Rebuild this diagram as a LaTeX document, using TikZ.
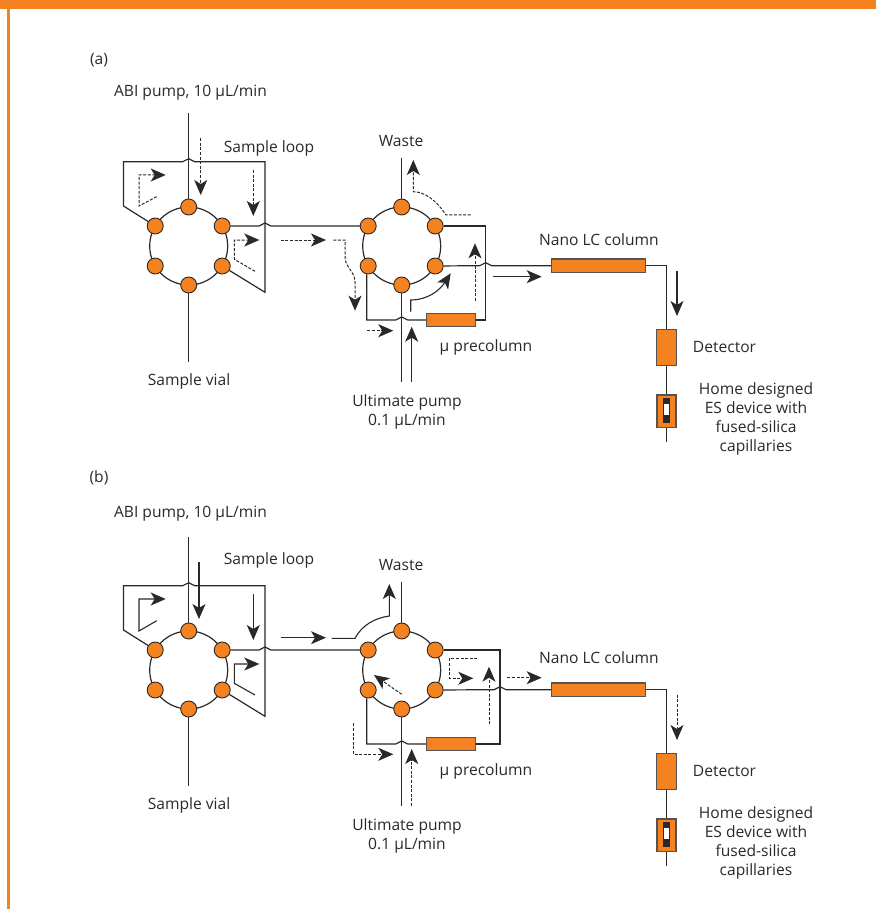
\documentclass[tikz,border=0pt]{standalone}
\usepackage{fontspec}
\setmainfont{Open Sans}
\usetikzlibrary{arrows.meta}
\definecolor{pumporange}{HTML}{F58220}
\definecolor{wirecol}{HTML}{2B2829}
\tikzset{
  wire/.style={draw=wirecol, line width=1.2pt},
  port/.style={circle, draw=wirecol, fill=pumporange, line width=0.9pt, minimum size=16pt, inner sep=0pt},
  column/.style={rectangle, draw=wirecol!80, fill=pumporange, line width=1.1pt, inner sep=0pt},
  lbl/.style={font=\fontsize{15.6}{19}\selectfont, text=wirecol, align=center, inner sep=0pt},
  flow/.style={wirecol, line width=1.1pt, -{Stealth[length=15pt,width=13pt,inset=4pt]}},
  dflow/.style={flow, dash pattern=on 3pt off 1.6pt, line width=1pt},
}
% small bump where one wire passes over another
\newcommand{\hop}[1]{-- ([xshift=-6pt]#1) .. controls ([xshift=-3pt]#1) and ([xshift=-3pt,yshift=3pt]#1) .. ([yshift=3pt]#1) .. controls ([xshift=3pt,yshift=3pt]#1) and ([xshift=3pt]#1) .. ([xshift=6pt]#1)}
% six port valve
\newcommand{\valve}[3]{
  \draw[wire] (#2,#3) circle (39pt);
  \node[port] (#1t) at (#2,#3-39) {};
  \node[port] (#1b) at (#2,#3+39) {};
  \node[port] (#1ul) at (#2-33.5,#3-20) {};
  \node[port] (#1ur) at (#2+33.5,#3-20) {};
  \node[port] (#1ll) at (#2-33.5,#3+20) {};
  \node[port] (#1lr) at (#2+33.5,#3+20) {};
}
% everything both panels share, #1 = x of the precolumn loop
\newcommand{\panelbody}[1]{
  \valve{p}{188.7}{246}
  \valve{q}{401.7}{246}
  \coordinate (abitop) at (188.7,113);
  \coordinate (vial) at (188.7,362);
  \coordinate (wastetop) at (401.7,158);
  \coordinate (umtop) at (401.7,381.7);
  \draw[wire] (abitop) -- (pt);
  \draw[wire] (pb) -- (vial);
  \draw[wire] (qt) -- (wastetop);
  \draw[wire] (qb) -- (umtop);
  % sample loop
  \coordinate (hopa) at (188.7,161.7);
  \coordinate (hopb) at (265,226);
  \draw[wire] (pul) -- (123.5,206) -- (123.5,161.7) \hop{hopa} -- (265,161.7) -- (265,292.3) -- (plr);
  \draw[wire] (pur) \hop{hopb} -- (qul);
  % precolumn
  \node[column, minimum width=49.4pt, minimum height=13.4pt] (pre) at (451,320) {};
  \coordinate (hopc) at (401.7,320);
  \coordinate (hopd) at (#1,265.7);
  \draw[wire] (qur) -- (#1,226) -- (#1,320) -- (pre);
  \draw[wire] ([xshift=-1.5pt]qll.south) -- (366.7,320) \hop{hopc} -- (pre);
  % column, detector, sprayer
  \node[column, minimum width=93.6pt, minimum height=13.4pt] (nano) at (598.5,265.7) {};
  \node[column, minimum width=20.3pt, minimum height=36.4pt] (det) at (666.5,347.5) {};
  \node[column, minimum width=19pt, minimum height=32.7pt] (es) at (666.5,411.3) {};
  \fill[wirecol] (662.7,398) rectangle (670.2,422.7);
  \fill[white] (664,404) rectangle (668.7,415);
  \coordinate (estip) at (666.5,441.7);
  \draw[wire] (qlr) \hop{hopd} -- (nano);
  \draw[wire] (nano) -| (det);
  \draw[wire] (det) -- (es);
  \draw[wire] (es) -- (estip);
  % labels
  \node[lbl] (vialtxt) at (189,381.5) {Sample vial};
  \node[lbl] (pretxt) at (486,347) {µ precolumn};
  \node[lbl] (umtxt) at (407,412) {Ultimate pump\\0.1 µL/min};
  \node[lbl] (dettxt) at (724.5,347) {Detector};
  \node[lbl, font=\fontsize{15.6}{19.2}\selectfont] (hometxt) at (756,419) {Home designed\\ES device with\\fused-silica\\capillaries};
}

\begin{document}
\begin{tikzpicture}[x=1pt,y=-1pt]
\useasboundingbox (0,0) rectangle (876,909);
\fill[pumporange] (0,0) rectangle (876,8.7);
\fill[pumporange] (7,0) rectangle (10,909);

% panel a
\begin{scope}[name prefix=a-]
\panelbody{485.7}
\node[lbl] (tag) at (99,60) {(a)};
\node[lbl] (abitxt) at (190.5,92.5) {ABI pump, 10 µL/min};
\node[lbl] (looptxt) at (269,148.5) {Sample loop};
\node[lbl] (wastetxt) at (401,141.5) {Waste};
\node[lbl] (nanotxt) at (599,239.5) {Nano LC column};
\draw[dflow] (200.7,138.3) -- (200.7,195);
\draw[dflow] (253.3,170) -- (253.3,216);
\draw[dflow] (156.7,196.7) -- (139,206) -- (139,175) -- (165.7,175);
\draw[dflow] (255,271.3) -- (234.3,259.3) -- (234.3,240) -- (259.3,240);
\draw[dflow] (280.7,240) -- (326,240);
\draw[dflow] (333.3,240) -- (345,240) -- (345,258) .. controls (346,268) and (355,272) .. (355,282) -- (355,310.7);
\draw[dflow] (367.3,330.7) -- (393.3,330.7);
\draw[flow] (411.7,381.7) -- (411.7,326.7);
\draw[flow] (410.7,311.7) -- (410.7,300) .. controls (428,300) and (440,290) .. (450.7,273.3);
\draw[dflow] (475,300.7) -- (475,243.3);
\draw[flow] (493.3,276.7) -- (541.7,276.7);
\draw[dflow] (470.7,215) -- (446,215) .. controls (436,200) and (425,192) .. (413.3,191.7) -- (413.3,160);
\draw[flow] (677,270.7) -- (677,316);
\end{scope}

% panel b
\begin{scope}[yshift=-424pt, name prefix=b-]
\panelbody{500}
\node[lbl] (tag) at (99,54) {(b)};
\node[lbl] (abitxt) at (190.5,90) {ABI pump, 10 µL/min};
\node[lbl] (looptxt) at (269,136) {Sample loop};
\node[lbl] (wastetxt) at (401,141.5) {Waste};
\node[lbl] (nanotxt) at (599,234) {Nano LC column};
\draw[flow] (199,137.7) -- (199,195);
\draw[flow] (253.3,170.3) -- (253.3,216);
\draw[flow] (156.7,196.7) -- (139,207) -- (139,175) -- (165.7,175);
\draw[flow] (255,271) -- (234.3,259.3) -- (234.3,240) -- (259.3,240);
\draw[flow] (280.7,213.7) -- (326,213.7);
\draw[flow] (331.7,214.3) -- (355,214.3) .. controls (362,201) and (375,194) .. (389.3,192) -- (389.3,160);
\draw[dflow] (401.7,270.3) -- (374,251);
\draw[dflow] (353.3,299.3) -- (353.3,330.3) -- (393.3,330.3);
\draw[dflow] (411.7,382) -- (411.7,325);
\draw[dflow] (489,300.3) -- (489,242.7);
\draw[dflow] (477.3,234.3) -- (449.7,234.3) -- (449.7,254.3) -- (473.3,254.3);
\draw[dflow] (507.3,253.7) -- (541.7,253.7);
\draw[dflow] (677,270.7) -- (677,316);
\end{scope}
\end{tikzpicture}
\end{document}
